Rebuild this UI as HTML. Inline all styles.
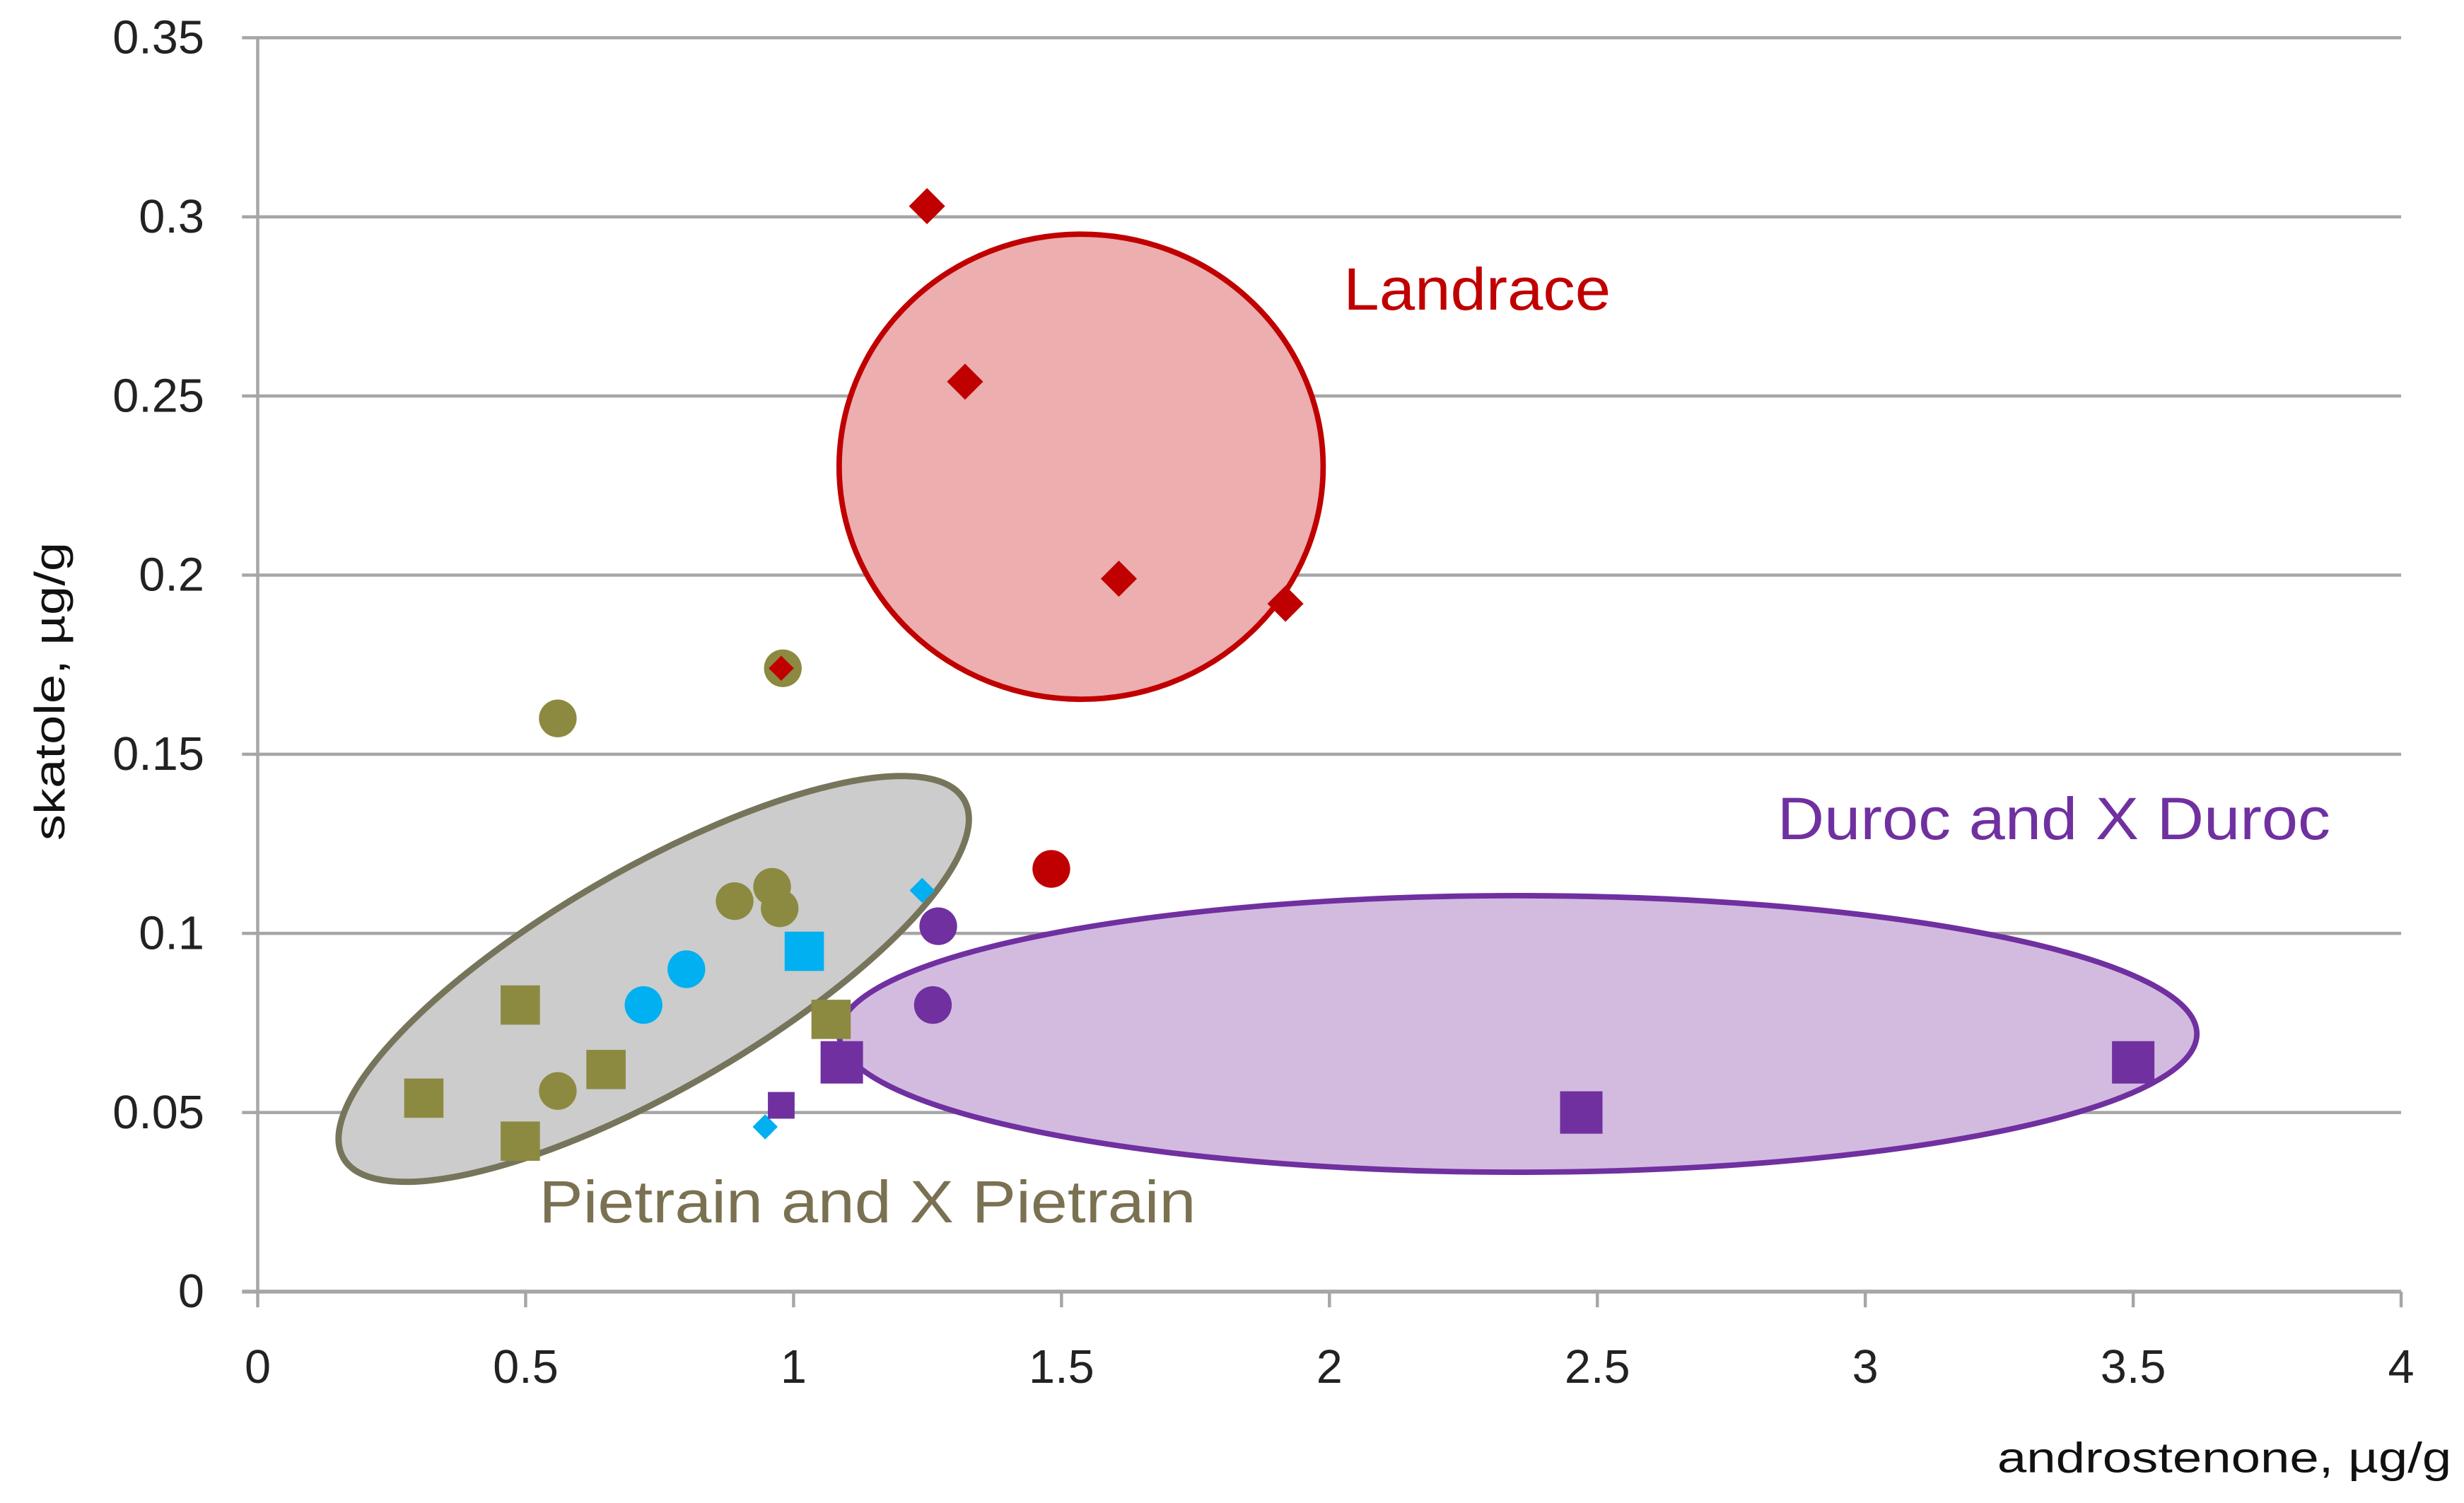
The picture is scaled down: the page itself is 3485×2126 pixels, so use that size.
<!DOCTYPE html>
<html><head><meta charset="utf-8">
<style>
html,body{margin:0;padding:0;background:#fff;}
svg{display:block;}
text{font-family:"Liberation Sans",sans-serif;}
</style></head>
<body>
<svg id="chart" width="3485" height="2126" viewBox="0 0 1568 956.5" xmlns="http://www.w3.org/2000/svg">
<g id="grid"></g>
<g id="regions"></g>
<g id="axes"></g>
<g id="marks"></g>
<g id="labels"></g>
</svg>
<script>
// ---- data ----
const xTicks = [0,0.5,1,1.5,2,2.5,3,3.5,4];
const xTickLabels = ["0","0.5","1","1.5","2","2.5","3","3.5","4"];
const yTicks = [0,0.05,0.1,0.15,0.2,0.25,0.3,0.35];
const yTickLabels = ["0","0.05","0.1","0.15","0.2","0.25","0.3","0.35"];

const redDiamondX = [1.249,1.32,1.607,1.918];
const redDiamondY = [0.303,0.254,0.199,0.192];
const redSmallDiamondX = [0.977];
const redSmallDiamondY = [0.174];
const redCircleX = [1.481];
const redCircleY = [0.118];
const oliveCircleX = [0.56,0.98,0.89,0.96,0.974,0.56];
const oliveCircleY = [0.160,0.174,0.109,0.113,0.107,0.056];
const oliveSquareX = [0.31,0.49,0.49,0.65,1.07];
const oliveSquareY = [0.054,0.080,0.042,0.062,0.076];
const cyanCircleX = [0.72,0.80];
const cyanCircleY = [0.080,0.090];
const cyanSquareX = [1.02];
const cyanSquareY = [0.095];
const cyanSmallDiamondX = [1.24,0.947];
const cyanSmallDiamondY = [0.112,0.046];
const purpleCircleX = [1.27,1.26];
const purpleCircleY = [0.102,0.080];
const purpleSquareX = [1.09,2.47,3.50];
const purpleSquareY = [0.064,0.050,0.064];
const purpleSmallSquareX = [0.977];
const purpleSmallSquareY = [0.052];

// ---- axes ----
const X0=164, X1=1528, Y0=822, Y1=24;
const sx = v => X0 + v/4*(X1-X0);
const sy = v => Y0 - v/0.35*(Y0-Y1);
const NS="http://www.w3.org/2000/svg";
function mk(parent, tag, attrs, txt){
  const e=document.createElementNS(NS,tag);
  for(const k in attrs) e.setAttribute(k,attrs[k]);
  if(txt!==undefined) e.textContent=txt;
  document.getElementById(parent).appendChild(e);
  return e;
}
const grey="#a6a6a6";
yTicks.forEach((t,i)=>{
  if(t>0){
    const g=mk('grid','line',{x1:X0-10,x2:X1,y1:sy(t),y2:sy(t),stroke:grey,'stroke-width':2});
    
    
  }
  const l=mk('axes','text',{x:X0-34,y:sy(t)+10,'text-anchor':'end','font-size':30,fill:'#222'},yTickLabels[i]);
  
  
});
let a=mk('axes','line',{x1:X0,x2:X0,y1:Y1,y2:Y0,stroke:grey,'stroke-width':2});


a=mk('axes','line',{x1:X0-10,x2:X1,y1:Y0,y2:Y0,stroke:grey,'stroke-width':2.5});


xTicks.forEach((t,i)=>{
  const tk=mk('axes','line',{x1:sx(t),x2:sx(t),y1:Y0,y2:Y0+10,stroke:grey,'stroke-width':2});
  
  
  const l=mk('axes','text',{x:sx(t),y:Y0+58,'text-anchor':'middle','font-size':30,fill:'#222'},xTickLabels[i]);
  
  
});
let t=mk('labels','text',{x:1271,y:937,'font-size':27,fill:'#111',textLength:289,lengthAdjust:'spacingAndGlyphs'},'androstenone, µg/g');


t=mk('labels','text',{x:-95,y:0,'font-size':27,fill:'#111',textLength:190,lengthAdjust:'spacingAndGlyphs',transform:'translate(41,440) rotate(-90)'},'skatole, µg/g');



// ---- regions ----
let r=mk('regions','ellipse',{cx:688,cy:297,rx:154,ry:148,fill:'#ecaeae',stroke:'#c00000','stroke-width':3.5});


r=mk('regions','ellipse',{cx:966,cy:658,rx:432,ry:88,fill:'#d3bbe0',stroke:'#7030a0','stroke-width':3.5});


r=mk('regions','ellipse',{cx:0,cy:0,rx:228,ry:70,fill:'#cccccc',stroke:'#76745a','stroke-width':4,transform:'translate(416,623) rotate(-30)'});



// ---- marks ----
function circles(xs,ys,rad,col,name){xs.forEach((x,i)=>{const e=mk('marks','circle',{cx:sx(x),cy:sy(ys[i]),r:rad,fill:col});
  
  });}
function squares(xs,ys,s,col,name){xs.forEach((x,i)=>{const e=mk('marks','rect',{x:sx(x)-s/2,y:sy(ys[i])-s/2,width:s,height:s,fill:col});
  
  });}
function diamonds(xs,ys,h,col,name){xs.forEach((x,i)=>{const cx=sx(x),cy=sy(ys[i]);
  const e=mk('marks','polygon',{points:`${cx},${cy-h} ${cx+h},${cy} ${cx},${cy+h} ${cx-h},${cy}`,fill:col});
  
  });}
const olive="#8b8a40", purple="#7030a0", cyan="#00b0f0", red="#c00000";
circles(oliveCircleX,oliveCircleY,12,olive,'pietrain-circle');
squares(oliveSquareX,oliveSquareY,25,olive,'pietrain-square');
circles(cyanCircleX,cyanCircleY,12,cyan,'cyan-circle');
squares(cyanSquareX,cyanSquareY,25,cyan,'cyan-square');
diamonds(cyanSmallDiamondX,cyanSmallDiamondY,8,cyan,'cyan-diamond');
circles(purpleCircleX,purpleCircleY,12,purple,'duroc-circle');
squares(purpleSquareX,purpleSquareY,27,purple,'duroc-square');
squares(purpleSmallSquareX,purpleSmallSquareY,17,purple,'duroc-small-square');
circles(redCircleX,redCircleY,12,red,'red-circle');
diamonds(redDiamondX,redDiamondY,11.5,red,'landrace-diamond');
diamonds(redSmallDiamondX,redSmallDiamondY,8,red,'landrace-small-diamond');

// ---- group labels ----
t=mk('labels','text',{x:855,y:197,'font-size':38,fill:'#c00000',textLength:170,lengthAdjust:'spacingAndGlyphs'},'Landrace');


t=mk('labels','text',{x:1131,y:534,'font-size':38,fill:'#7030a0',textLength:352,lengthAdjust:'spacingAndGlyphs'},'Duroc and X Duroc');


t=mk('labels','text',{x:343,y:778,'font-size':38,fill:'#7a7152',textLength:418,lengthAdjust:'spacingAndGlyphs'},'Pietrain and X Pietrain');


</script>
</body></html>
